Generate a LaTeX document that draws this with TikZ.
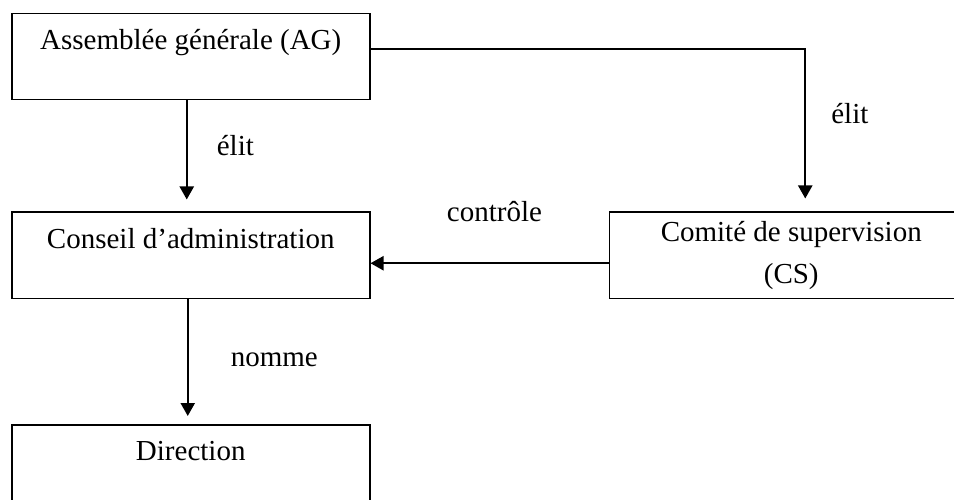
\documentclass[tikz,border=0pt]{standalone}
\usepackage{fontspec}
\setmainfont{Liberation Serif}
\usetikzlibrary{positioning}
\usetikzlibrary{arrows.meta}

\begin{document}
\begin{tikzpicture}
[x=1pt,y=-1pt,%
  every node/.style={font=\fontsize{29}{42}\selectfont,inner sep=0pt},%
  organe/.style={draw,line width=1.5pt,rectangle,minimum width=358pt,text height=36pt,text depth=50pt},%
  fleche/.style={-{Triangle[width=14pt,length=13pt]},line width=2.2pt},%
  etiquette/.style={anchor=base west}]
\useasboundingbox (0,0) rectangle (954,500);
\clip (0,0) rectangle (954,500);
% organes
\node[organe,anchor=north west] (ag) at (11,13) {Assemblée générale (AG)};
\node[organe,below=111pt of ag] (ca) {Conseil d’administration};
\node[organe,below=125pt of ca] (dir) {Direction};
\node[draw,line width=1.5pt,rectangle,minimum width=364pt,minimum height=86pt,
  align=center,right=238pt of ca] (cs) {Comité de supervision\\(CS)};
% liens
\draw[fleche,shorten >=12pt] ([xshift=-4pt]ag.south) -- ([xshift=-4pt]ca.north)
  node[etiquette,midway,xshift=29pt] {élit};
\draw[fleche,shorten >=13pt] ([yshift=8pt]ag.east) -| ([xshift=14pt]cs.north)
  node[etiquette,pos=0.75,xshift=25pt,yshift=7pt] {élit};
\draw[fleche] ([yshift=-8pt]cs.west) -- ([yshift=-8pt]ca.east)
  node[anchor=base,midway,xshift=5pt,yshift=42pt] {contrôle};
\draw[fleche,shorten >=8pt] ([xshift=-3pt]ca.south) -- ([xshift=-3pt]dir.north)
  node[etiquette,midway,xshift=42pt,yshift=-5pt] {nomme};
\end{tikzpicture}
\end{document}
